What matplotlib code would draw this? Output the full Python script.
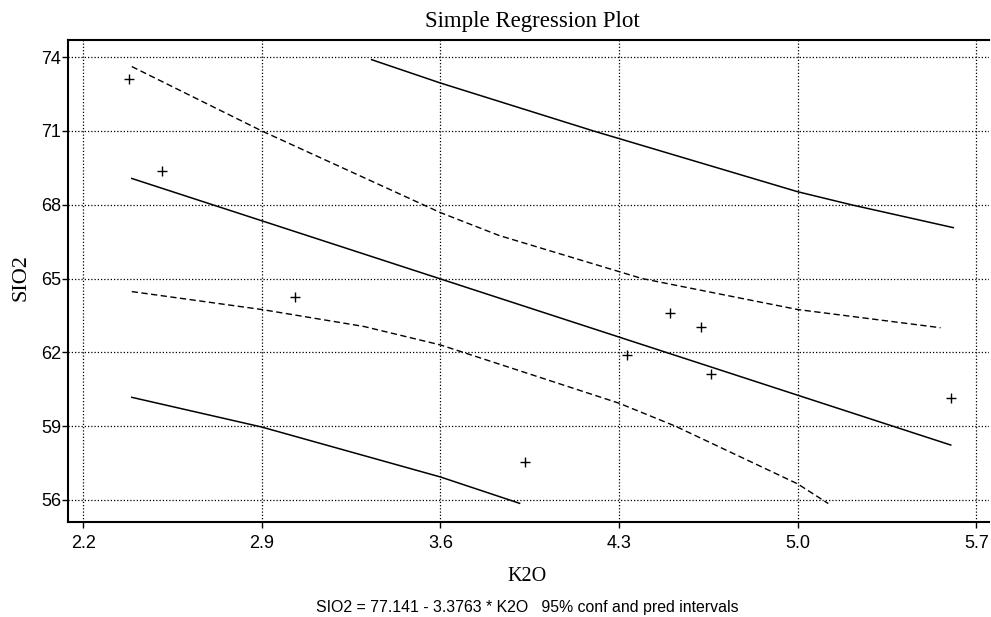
import numpy as np
import matplotlib
matplotlib.use("Agg")
import matplotlib.pyplot as plt

# data points (K2O, SIO2)
k2o = [2.38, 2.51, 3.03, 4.50, 4.62, 4.33, 4.66, 3.93, 5.60]
sio2 = [73.12, 69.39, 64.23, 63.61, 63.02, 61.90, 61.13, 57.56, 60.15]

# fitted line SIO2 = 77.141 - 3.3763 * K2O, drawn over the data range
fit_x = [2.39, 5.60]
fit_y = [69.07, 58.23]

# 95% confidence band
conf_hi_x = [2.39, 2.90, 3.60, 3.83, 4.39, 5.00, 5.56]
conf_hi_y = [73.62, 71.00, 67.68, 66.75, 65.00, 63.74, 63.00]
conf_lo_x = [2.39, 2.90, 3.30, 3.60, 4.30, 4.52, 5.00, 5.12]
conf_lo_y = [64.47, 63.74, 63.05, 62.30, 59.93, 59.00, 56.65, 55.85]

# 95% prediction band (cut off by the program near 56 / 74)
pred_hi_x = [3.33, 3.60, 4.20, 5.00, 5.21, 5.61]
pred_hi_y = [73.90, 72.95, 71.00, 68.53, 68.00, 67.07]
pred_lo_x = [2.39, 2.90, 3.60, 3.91]
pred_lo_y = [60.17, 58.96, 56.93, 55.86]

xticks = [2.2, 2.9, 3.6, 4.3, 5.0, 5.7]
yticks = [56, 59, 62, 65, 68, 71, 74]

serif = "Liberation Serif"
sans = "Liberation Sans"

fig = plt.figure(figsize=(9.91, 6.17), dpi=100)
ax = fig.add_axes([68 / 991, 1 - 522 / 617, 1 - 68 / 991 - 0.002, (522 - 40) / 617])

ax.plot(fit_x, fit_y, color="black", lw=1.1)
ax.plot(pred_hi_x, pred_hi_y, color="black", lw=1.1)
ax.plot(pred_lo_x, pred_lo_y, color="black", lw=1.1)
ax.plot(conf_hi_x, conf_hi_y, color="black", lw=1.0, dashes=(4.5, 2.5))
ax.plot(conf_lo_x, conf_lo_y, color="black", lw=1.0, dashes=(4.5, 2.5))
ax.plot(k2o, sio2, "+", color="black", ms=6.5, mew=1.0)

ax.set_xlim(2.14, 5.75)
ax.set_ylim(55.1, 74.7)
ax.set_xticks(xticks)
ax.set_xticklabels(["%.1f" % t for t in xticks])
ax.set_yticks(yticks)
ax.set_yticklabels([str(t) for t in yticks])
ax.tick_params(axis="both", direction="out", length=4, width=1, color="black",
               labelsize=13)
for lab in ax.get_xticklabels() + ax.get_yticklabels():
    lab.set_family(sans)
ax.tick_params(axis="x", pad=5)
ax.tick_params(axis="y", pad=1)

ax.grid(True, color="black", lw=0.9, linestyle=(0, (1, 1.6)))

for side in ["top", "left", "bottom"]:
    ax.spines[side].set_linewidth(1.5)
    ax.spines[side].set_color("black")
ax.spines["right"].set_visible(False)

fig.text(0.537, 0.965, "Simple Regression Plot", family=serif, fontsize=16.5,
         ha="center", va="center")
fig.text(0.532, 0.066, "K2O", family=serif, fontsize=14.5, ha="center", va="center")
fig.text(0.021, 0.55, "SIO2", family=serif, fontsize=16, ha="center", va="center",
         rotation=90)
fig.text(0.532, 0.016, "SIO2 = 77.141 - 3.3763 * K2O   95% conf and pred intervals",
         family=sans, fontsize=11.4, ha="center", va="center")

fig.savefig("out.png", dpi=100)
